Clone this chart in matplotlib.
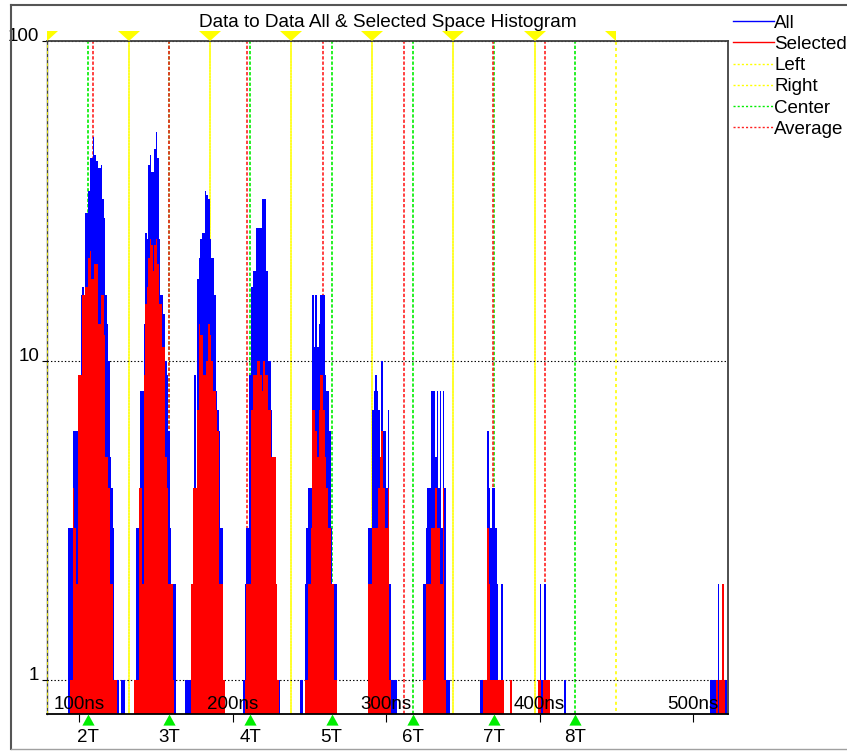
import numpy as np
import matplotlib.pyplot as plt
from matplotlib.lines import Line2D
from matplotlib.ticker import NullLocator

plt.rcParams['font.family'] = ['Liberation Sans', 'DejaVu Sans']
plt.rcParams['lines.scale_dashes'] = False

# histogram data, 1 ns bins, each cluster begins at cluster_start (ns)
cluster_start = [93, 136, 169, 207, 244, 288, 324, 361, 399, 511]

all_counts = [
    [3, 3, 3, 6, 6, 6, 9, 9, 16, 17, 16, 29, 29, 34, 43, 43, 50, 44, 42, 40,
     40, 41, 32, 28, 16, 13, 10, 5, 4, 3, 1, 1, 1, 0, 1, 1, 1],
    [1, 3, 3, 4, 8, 8, 13, 25, 24, 41, 44, 39, 39, 46, 52, 43, 24, 16, 16, 14,
     10, 9, 6, 3, 2, 2, 2],
    [1, 1, 1, 1, 2, 4, 9, 4, 18, 21, 24, 25, 25, 34, 33, 32, 24, 21, 21, 16,
     8, 7, 6, 3, 3, 1],
    [1, 2, 3, 3, 9, 17, 19, 19, 26, 26, 26, 26, 32, 32, 32, 19, 10, 10, 7, 5,
     5, 2, 1, 1],
    [1, 1, 0, 2, 3, 4, 4, 4, 16, 11, 16, 11, 13, 16, 16, 16, 9, 8, 8, 6,
     3, 2, 2, 2],
    [3, 3, 3, 7, 8, 9, 8, 7, 5, 10, 6, 6, 4, 7, 2, 1, 1, 1, 1],
    [2, 2, 3, 4, 4, 8, 8, 8, 5, 8, 4, 8, 3, 8, 4, 1, 1, 1],
    [1, 1, 1, 1, 1, 6, 4, 3, 4, 4, 3, 2, 1, 1, 2, 1, 0, 0, 0, 0, 1],
    [1, 2, 1, 1, 2, 1, 1, 1, 0, 0, 0, 0, 0, 0, 0, 0, 0, 1],
    [1, 1, 1, 1, 1, 2, 1, 1, 2, 1, 1],
]

selected_counts = [
    [0, 1, 1, 4, 3, 2, 9, 9, 9, 16, 16, 17, 17, 21, 22, 18, 18, 20, 20, 13,
     13, 16, 16, 12, 5, 5, 4, 2, 2, 1, 1, 1],
    [1, 1, 1, 4, 4, 2, 9, 15, 17, 21, 24, 23, 19, 23, 24, 20, 15, 15, 11, 11,
     5, 4, 2, 2, 2, 1],
    [0, 0, 0, 0, 2, 4, 4, 4, 7, 13, 12, 12, 9, 9, 10, 13, 12, 10, 8, 8,
     7, 6, 2, 2, 2, 1],
    [0, 1, 2, 2, 2, 7, 9, 9, 9, 10, 10, 9, 8, 10, 9, 9, 7, 7, 5, 5,
     5, 2, 1],
    [0, 0, 0, 1, 1, 2, 2, 3, 7, 7, 6, 5, 7, 9, 9, 7, 5, 4, 3, 3,
     2, 2, 1, 1],
    [2, 2, 2, 3, 3, 3, 3, 4, 5, 6, 4, 3, 3, 4, 1],
    [1, 1, 2, 2, 2, 3, 3, 3, 4, 3, 3, 2, 2, 4, 1],
    [0, 0, 1, 1, 1, 3, 2, 1, 1, 1, 1, 1, 1, 1, 1, 1, 0, 0, 0, 0, 1],
    [1, 1, 0, 1, 1, 1, 1, 1],
    [0, 0, 0, 0, 1, 0, 1, 1, 2, 1],
]

# class markers (ns)
center_labels = ['2T', '3T', '4T', '5T', '6T', '7T', '8T']
centers = [105.8, 158.7, 211.6, 264.5, 317.4, 370.3, 423.2]
averages = [108.9, 158.6, 209.3, 258.8, 311.5, 369.5, 403.8]
lefts = [79.35, 132.25, 185.15, 238.05, 290.95, 343.85, 396.75]
rights = [132.25, 185.15, 238.05, 290.95, 343.85, 396.75, 449.65]

xticks = [100, 200, 300, 400, 500]
xtick_labels = ['100ns', '200ns', '300ns', '400ns', '500ns']
yticks = [1, 10, 100]
ytick_labels = ['1', '10', '100']


def to_bins(starts, counts):
    x = np.concatenate([s + np.arange(len(c)) for s, c in zip(starts, counts)])
    h = np.concatenate([np.asarray(c, float) for c in counts])
    keep = h > 0
    return x[keep], h[keep]


fig = plt.figure(figsize=(8.47, 7.51), dpi=100)
ax = fig.add_axes([0.0555, 0.0493, 0.8038, 0.8961])

xa, ha = to_bins(cluster_start, all_counts)
xs, hs = to_bins(cluster_start, selected_counts)
ax.bar(xa, ha, width=1.0, align='edge', color='#0000ff', linewidth=0, zorder=2)
ax.bar(xs, hs, width=1.0, align='edge', color='#ff0000', linewidth=0, zorder=2.1)

yellow = '#ffff00'
green = '#00ee00'
for x in lefts:
    ax.axvline(x, color=yellow, lw=1.2, ls=(0, (2.2, 2.2)), zorder=1)
for x in rights:
    ax.axvline(x, color=yellow, lw=1.2, ls=(2.2, (2.2, 2.2)), zorder=1)
for x in centers:
    ax.axvline(x, color=green, lw=1.2, ls=(0, (2.4, 1.4)), zorder=1)
for x in averages:
    ax.axvline(x, color='#ff2020', lw=1.2, ls=(0, (2.4, 1.4)), zorder=1)

# markers along the top and bottom edges
trans = ax.get_xaxis_transform()
ax.plot(lefts, [1] * len(lefts), ls='none', marker=[(0, 0), (0, 0.91), (1, 0.91)],
        ms=16, color=yellow, mew=0, transform=trans, clip_on=False, zorder=4)
ax.plot(rights, [1] * len(rights), ls='none', marker=[(0, 0), (0, 0.91), (-1, 0.91)],
        ms=16, color=yellow, mew=0, transform=trans, clip_on=False, zorder=4)
ax.plot(centers, [0] * len(centers), ls='none',
        marker=[(0, 0), (-0.55, -1), (0.55, -1)],
        ms=16, color=green, mew=0, transform=trans, clip_on=False, zorder=4)

ax.set_yscale('log')
ax.set_ylim(0.783, 100)
ax.set_xlim(79.1, 522.7)
ax.yaxis.set_minor_locator(NullLocator())
ax.set_yticks(yticks, ytick_labels)
for lab in ax.get_yticklabels():
    lab.set_verticalalignment('baseline')
ax.set_xticks(xticks, xtick_labels)
ax.set_xticks(centers, center_labels, minor=True)
ax.xaxis.set_zorder(3)

ax.tick_params(axis='x', which='major', direction='out', length=5.5, width=0.8,
               pad=-18.5, labelsize=13.5)
ax.tick_params(axis='x', which='minor', length=0, pad=10.5, labelsize=13.5)
ax.tick_params(axis='y', which='major', direction='out', length=3.6, width=0.8,
               pad=2, labelsize=13.5)

ax.grid(True, axis='y', which='major', color='black', lw=0.8, ls=(0, (1, 1.5)))

for side in ['top', 'right']:
    ax.spines[side].set_color('#404040')
    ax.spines[side].set_linewidth(1.3)
ax.spines['bottom'].set_color('black')
ax.spines['bottom'].set_linewidth(1.3)
ax.spines['left'].set_color('#404040')
ax.spines['left'].set_linewidth(1.0)
ax.spines['left'].set_zorder(0.9)

ax.set_title('Data to Data All & Selected Space Histogram', fontsize=13.7, pad=10.3)

handles = [
    Line2D([], [], color='#0000ff', lw=1.0),
    Line2D([], [], color='#ff0000', lw=1.0),
    Line2D([], [], color=yellow, lw=1.0, ls=(0, (1.5, 1.5))),
    Line2D([], [], color=yellow, lw=1.0, ls=(0, (1.5, 1.5))),
    Line2D([], [], color=green, lw=1.0, ls=(0, (1.5, 1.5))),
    Line2D([], [], color='#ff2020', lw=1.0, ls=(0, (1.5, 1.5))),
]
labels = ['All', 'Selected', 'Left', 'Right', 'Center', 'Average']
fig.legend(handles, labels, loc='upper left', bbox_to_anchor=(733 / 847, 1 - 14.5 / 751),
           frameon=False, borderpad=0, borderaxespad=0, handlelength=2.2,
           handletextpad=0.0, labelspacing=0.22, fontsize=13.5)

# sunken panel border
fig.add_artist(Line2D([11 / 847, 1], [1 - 4.5 / 751] * 2, color='#555555', lw=1.5,
                      transform=fig.transFigure))
fig.add_artist(Line2D([11 / 847] * 2, [1 - 4.5 / 751, 2 / 751], color='#555555', lw=1.5,
                      transform=fig.transFigure))
fig.add_artist(Line2D([11 / 847, 1], [2 / 751] * 2, color='#a0a0a0', lw=1.0,
                      transform=fig.transFigure))

fig.savefig('out.png', dpi=100)
